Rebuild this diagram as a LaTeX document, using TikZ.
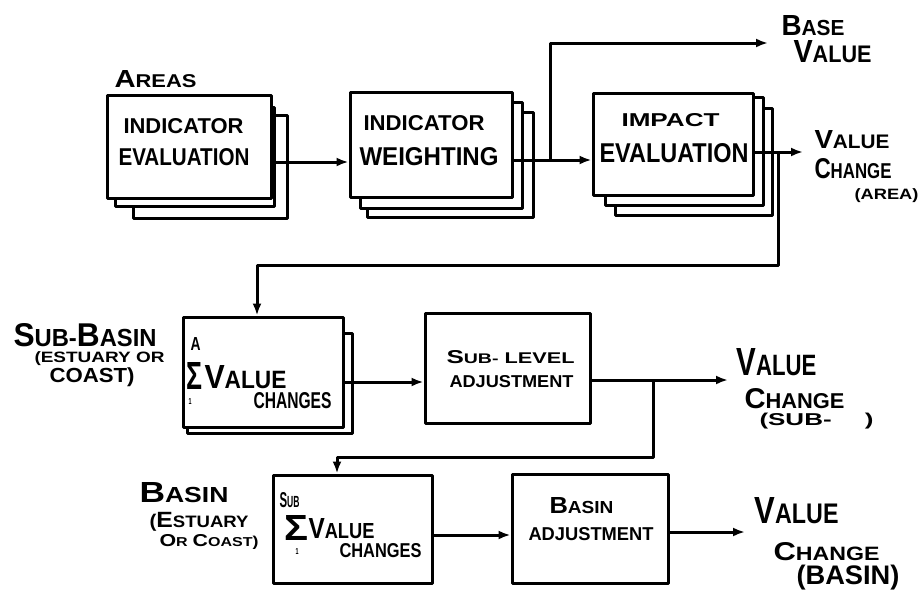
\documentclass[tikz,border=0pt]{standalone}
\usepackage{fontspec}
\setmainfont{Liberation Sans}
\usepackage{graphicx}
\usetikzlibrary{arrows.meta,fit}
\newcommand\fs[1]{\fontsize{#1}{#1}\selectfont}
\newcommand\fitt[3]{\resizebox{#1pt}{#2pt}{\bfseries #3}}
\newcommand\fitp[3]{\resizebox{#1pt}{#2pt}{\bfseries\raisebox{\depth}{#3}}}
\newcommand\hsc[2]{{\fs{12}#1\fs{9}#2}}
\begin{document}
\begin{tikzpicture}[x=1pt,y=-1pt,line width=3pt,line join=round,
  box/.style={draw,fill=white,inner sep=0pt},
  layer/.style={draw,fill=white},
  lbl/.style={inner sep=0pt,anchor=base west},
  arr/.style={-{Latex[length=12pt,width=9pt]}}]
\useasboundingbox (0,0) rectangle (920,592);

% ---------- stacked boxes, row 1
\draw[layer] (133,115) rectangle (287,218);
\draw[layer] (115,107) rectangle (274,206);
\node[box,fit={(107,95) (271,198)}] (b1) {};
\draw[layer] (367,112) rectangle (533,217);
\draw[layer] (360,102) rectangle (522,208);
\node[box,fit={(350,92) (512,197)}] (b2) {};
\draw[layer] (615,108) rectangle (772,215);
\draw[layer] (605,97) rectangle (763,205);
\node[box,fit={(593,93) (753,195)}] (b3) {};

% ---------- row 2
\draw[layer] (187,333) rectangle (352,433);
\node[box,fit={(183,317) (343,427)}] (b4) {};
\node[box,fit={(425,313) (590,423)}] (b5) {};

% ---------- row 3
\node[box,fit={(273,475) (432,583)}] (b6) {};
\node[box,fit={(512,474) (668,583)}] (b7) {};

% ---------- connectors
\coordinate (y1) at (0,162);
\draw[arr] (b1.east |- y1) -- (b2.west |- y1);
\coordinate (y2) at (0,160);
\coordinate (br1) at (550,160);
\coordinate (bvtip) at (768,43);
\draw[arr] (b2.east |- y2) -- (b3.west |- y2);
\draw[arr] (br1) |- (bvtip);
\coordinate (j1) at (778,152);
\coordinate (vatip) at (803,152);
\draw[arr] (b3.east |- j1) -- (vatip);
\coordinate (j2) at (257,265);
\draw[arr] (j1) |- (j2) -- (j2 |- b4.north);
\coordinate (y4) at (0,382);
\draw[arr] (b4.east |- y4) -- (b5.west |- y4);
\coordinate (j3) at (653,380);
\coordinate (vstip) at (728,380);
\draw[arr] (b5.east |- j3) -- (vstip);
\coordinate (j4) at (337,457);
\draw[arr] (j3) |- (j4) -- (j4 |- b6.north);
\coordinate (y6) at (0,535);
\draw[arr] (b6.east |- y6) -- (b7.west |- y6);
\coordinate (vbtip) at (745,532);
\draw[arr] (b7.east |- vbtip) -- (vbtip);

% ---------- texts in boxes
\node[lbl] (t1a) at (122,133) {\fitt{120}{15}{INDICATOR}};
\node[lbl] (t1b) at (117,165) {\fitt{131}{17}{EVALUATION}};
\node[lbl] (t2a) at (362,130) {\fitt{121}{15}{INDICATOR}};
\node[lbl] (t2b) at (358,165) {\fitt{139}{18}{WEIGHTING}};
\node[lbl] (t3a) at (620,126) {\fitt{98}{13}{IMPACT}};
\node[lbl] (t3b) at (598,162) {\fitt{149}{19}{EVALUATION}};

\node[lbl] (t4a) at (189,350) {\fitt{10}{13}{A}};
\node[lbl] (t4s) at (185,389) {\fitt{16}{27}{Σ}};
\node[lbl] (t4v) at (203,388) {\fitt{82}{23}{\hsc{V}{ALUE}}};
\node[lbl] (t4c) at (252,408) {\fitt{78}{16}{CHANGES}};
\node[lbl] (t4i) at (187,404) {\fitt{3}{6}{1}};

\node[lbl] (t5a) at (445,363) {\fitt{128}{13}{\hsc{S}{UB-} LEVEL}};
\node[lbl] (t5b) at (448,387) {\fitt{124}{12}{ADJUSTMENT}};

\node[lbl] (t6a) at (278,507) {\fitt{20}{15}{\hsc{S}{UB}}};
\node[lbl] (t6s) at (283,540) {\fitt{24}{25}{Σ}};
\node[lbl] (t6v) at (307,538) {\fitt{66}{20}{\hsc{V}{ALUE}}};
\node[lbl] (t6c) at (338,557) {\fitt{82}{14}{CHANGES}};
\node[lbl] (t6i) at (294,554) {\fitt{3}{6}{1}};

\node[lbl] (t7a) at (548,513) {\fitt{64}{16}{\hsc{B}{ASIN}}};
\node[lbl] (t7b) at (527,540) {\fitt{125}{13}{ADJUSTMENT}};

% ---------- outside labels
\node[lbl] (areas) at (113,87) {\fitt{82}{17}{\hsc{A}{REAS}}};
\node[lbl] (base1) at (780,35) {\fitt{63}{20}{\hsc{B}{ASE}}};
\node[lbl] (base2) at (792,62) {\fitt{78}{22}{\hsc{V}{ALUE}}};
\node[lbl] (va1) at (813,148) {\fitt{75}{18}{\hsc{V}{ALUE}}};
\node[lbl] (va2) at (813,178) {\fitt{77}{20}{\hsc{C}{HANGE}}};
\node[lbl] (va3) at (853,203) {\fitp{64}{14}{(AREA)}};

\node[lbl] (sb1) at (12,346) {\fitt{143}{23}{\hsc{S}{UB-}\hsc{B}{ASIN}}};
\node[lbl] (sb2) at (33,366) {\fitp{130}{14}{(ESTUARY OR}};
\node[lbl] (sb3) at (48,387) {\fitp{85}{19}{COAST)}};

\node[lbl] (vs1) at (735,375) {\fitt{80}{27}{\hsc{V}{ALUE}}};
\node[lbl] (vs2) at (743,408) {\fitt{100}{20}{\hsc{C}{HANGE}}};
\node[lbl] (vs3) at (758,429) {\fitp{114}{16}{(SUB- \quad)}};

\node[lbl] (bs1) at (138,502) {\fitt{89}{20}{\hsc{B}{ASIN}}};
\node[lbl] (bs2) at (148,531) {\fitp{99}{19}{(\hsc{E}{STUARY}}};
\node[lbl] (bs3) at (158,549) {\fitp{99}{15}{\hsc{O}{R} \hsc{C}{OAST})}};

\node[lbl] (vb1) at (753,523) {\fitt{84}{26}{\hsc{V}{ALUE}}};
\node[lbl] (vb2) at (772,560) {\fitt{106}{18}{\hsc{C}{HANGE}}};
\node[lbl] (vb3) at (795,590) {\fitp{103}{25}{(BASIN)}};
\end{tikzpicture}
\end{document}
